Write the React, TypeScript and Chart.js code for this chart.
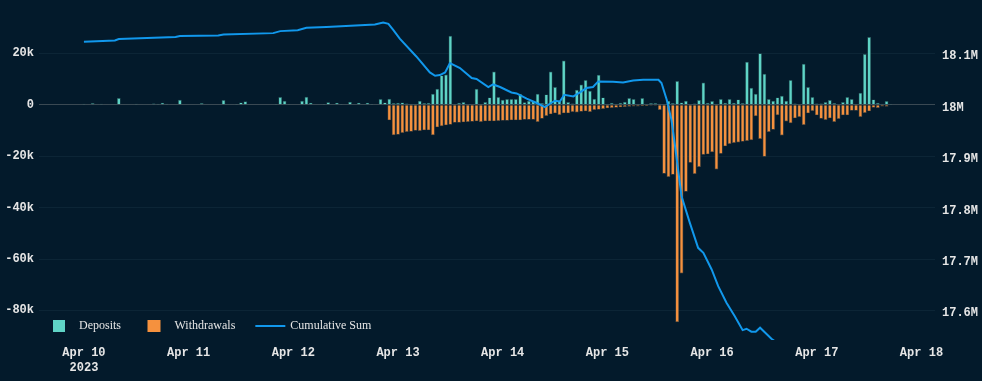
import React, { useEffect, useRef } from 'react';
import { Chart, registerables } from 'chart.js';

Chart.register(...registerables);

// ---- data (hourly, hour 0 = Apr 10 00:00) ----
const dayLabels = ['Apr 10', 'Apr 11', 'Apr 12', 'Apr 13', 'Apr 14', 'Apr 15', 'Apr 16', 'Apr 17', 'Apr 18'];
const yearLabel = '2023';
const seriesNames = ['Deposits', 'Withdrawals', 'Cumulative Sum'];

const deposits = [
  400, 150, 650, 150, 400, 150, 250, 250, 2600, 0,
  100, 0, 400, 0, 250, 0, 500, 400, 800, 400,
  150, 200, 1950, 0, 0, 0, 100, 650, 0, 0,
  150, 200, 1800, 100, 0, 300, 900, 1300, 0, 0,
  200, 200, 200, 200, 300, 3000, 1550, 300, 0, 150,
  1550, 3100, 800, 0, 0, 300, 1000, 200, 800, 300,
  200, 1150, 150, 800, 150, 800, 300, 200, 2200, 900,
  2300, 650, 780, 900, 520, 390, 390, 1550, 650, 780,
  4270, 6200, 11400, 11770, 26800, 390, 780, 1030, 200, 260,
  6200, 390, 1030, 2850, 12900, 2980, 1940, 2200, 2200, 2200,
  4270, 1000, 1550, 1300, 4270, 650, 4010, 12900, 6860, 1300,
  17200, 1030, 520, 5820, 7890, 9570, 5430, 2330, 11640, 2850,
  390, 780, 390, 780, 1160, 2590, 2200, 390, 2590, 390,
  650, 650, 390, 300, 1550, 650, 9180, 900, 1550, 260,
  520, 1810, 8660, 780, 1420, 390, 2200, 780, 2200, 780,
  2070, 650, 16700, 6600, 4270, 20000, 12000, 2200, 1550, 2850,
  3500, 1550, 9570, 520, 200, 15900, 6860, 2980, 520, 520,
  1030, 1810, 650, 260, 1030, 2980, 2200, 390, 4660, 19700,
  26300, 2070, 780, 390, 1420, 300,
];

const withdrawals = [
  0, 0, 0, 0, 0, 0, 0, 0, 0, 0,
  0, 0, 0, 0, 0, 0, 0, 0, 0, 0,
  0, 0, 0, 0, 0, 0, 0, 0, 0, 0,
  0, 0, 0, 0, 0, 0, 0, 0, 0, 0,
  0, 0, 0, 0, 0, 0, 0, 0, 0, 0,
  0, 0, 0, 0, 0, 0, 0, 0, 0, 0,
  0, 0, 0, 0, 0, 0, 0, 0, 0, 0,
  -6080, -11900, -11640, -11000, -10600, -10480, -10100, -10200, -9960, -9960,
  -11900, -8800, -8400, -8020, -7760, -6980, -6980, -6850, -6730, -6600,
  -6470, -6730, -6470, -6470, -6470, -6340, -6200, -6200, -6080, -6080,
  -6080, -5820, -5820, -5820, -6730, -5430, -4400, -3750, -3360, -4010,
  -3360, -3360, -2850, -2980, -2720, -2590, -2850, -2070, -1940, -1680,
  -1420, -1300, -1160, -1030, -900, -780, -650, -650, -520, -520,
  -390, -390, -2070, -26800, -28100, -27200, -84600, -65600, -33800, -22600,
  -26900, -24200, -19500, -19300, -18500, -25200, -19100, -16200, -15300, -14900,
  -14700, -14400, -14100, -13800, -4500, -13300, -20200, -10600, -9700, -4100,
  -12000, -6500, -7200, -5300, -4800, -7900, -3360, -2460, -4140, -5430,
  -5950, -5300, -6730, -5560, -4140, -4140, -2330, -2330, -4790, -3230,
  -2590, -1160, -1300, -650, -780, -200,
];

const cumHours = [
  0, 7.1, 8, 21, 22, 30.8, 32, 43.4, 45, 49, 51, 55.6, 66.7, 68.6, 69.8, 70.9, 72.4,
  76.2, 79.3, 80.5, 81.6, 82.8, 83.9, 86.2, 88.9, 90, 92.7, 93.8, 95.4, 98, 99.2,
  101.5, 103.8, 105.7, 106.8, 108, 109.1, 110.1, 112.2, 113.7, 115.2, 116.7, 117.9,
  121.3, 123.6, 125.9, 128.2, 131.7, 132.4, 133.6, 134.7, 135.5, 137, 138.9, 140.8,
  142, 143.9, 145.4, 147.3, 149.2, 151, 151.9, 153, 154, 155, 157.6,
  160, 165, 172, 178, 185,
];
const cumValues = [
  18122300, 18124900, 18127600, 18131500, 18133400, 18134600, 18136500, 18139200,
  18143100, 18145000, 18149500, 18150900, 18156000, 18159800, 18157300, 18145700,
  18128500, 18093800, 18062700, 18056300, 18057700, 18062700, 18081000, 18071300,
  18051900, 18050000, 18034400, 18039400, 18034400, 18023900, 18022000, 18011700,
  18003300, 17995500, 18001900, 18007800, 18006400, 18019400, 18016100, 18023900,
  18032400, 18034400, 18045300, 18044700, 18043300, 18047200, 18048600, 18048600,
  18042100, 18009700, 17970000, 17920000, 17822000, 17770300, 17721700, 17712000,
  17679600, 17647100, 17614900, 17588900, 17561700, 17564400, 17558600, 17558600,
  17566400, 17545000,
  17530000, 17515000, 17490000, 17480000, 17500000,
];

const leftTicks = [-80000, -60000, -40000, -20000, 0, 20000];
const rightTicks = [17600000, 17700000, 17800000, 17900000, 18000000, 18100000];

// ---- styles ----
const BG = '#031a2b';
const TEAL = '#5fd4c6';
const ORANGE = '#f5913e';
const LINE = '#1198ec';
const TICK = '#e6e6e6';
const MONO = '"Liberation Mono", "Courier New", monospace';
const SERIF = '"Liberation Serif", "Times New Roman", serif';

const bgPlugin = {
  id: 'bg',
  beforeDraw(chart: any) {
    const { ctx, width, height } = chart;
    ctx.save();
    ctx.fillStyle = BG;
    ctx.fillRect(0, 0, width, height);
    ctx.restore();
  },
};

const legendPlugin = {
  id: 'overlayLegend',
  afterDraw(chart: any) {
    const { ctx, chartArea } = chart;
    ctx.save();
    ctx.font = '12px ' + SERIF;
    ctx.textBaseline = 'middle';
    const cy = 326;
    let x = chartArea.left + 14;
    ctx.fillStyle = TEAL;
    ctx.fillRect(x, cy - 6, 12, 12);
    ctx.fillStyle = TICK;
    ctx.fillText(seriesNames[0], x + 26, cy);
    x = x + 26 + ctx.measureText(seriesNames[0]).width + 26.5;
    ctx.fillStyle = ORANGE;
    ctx.fillRect(x, cy - 6, 13, 12);
    ctx.fillStyle = TICK;
    ctx.fillText(seriesNames[1], x + 27, cy);
    x = x + 27 + ctx.measureText(seriesNames[1]).width + 20;
    ctx.strokeStyle = LINE;
    ctx.lineWidth = 2;
    ctx.beginPath();
    ctx.moveTo(x, cy);
    ctx.lineTo(x + 30, cy);
    ctx.stroke();
    ctx.fillStyle = TICK;
    ctx.fillText(seriesNames[2], x + 35, cy);
    ctx.restore();
  },
};

export default function App() {
  const ref = useRef<HTMLCanvasElement | null>(null);

  useEffect(() => {
    if (!ref.current) return;
    const chart = new Chart(ref.current, {
      type: 'bar',
      data: {
        datasets: [
          {
            type: 'line',
            label: seriesNames[2],
            data: cumHours.map((h, i) => ({ x: h, y: cumValues[i] })),
            borderColor: LINE,
            borderWidth: 2,
            pointRadius: 0,
            tension: 0,
            yAxisID: 'y1',
            order: 0,
          } as any,
          {
            type: 'bar',
            label: seriesNames[0],
            data: deposits.map((v, i) => ({ x: i, y: v })),
            backgroundColor: TEAL,
            borderColor: 'rgba(40,90,92,0.9)',
            borderWidth: 0.7,
            borderSkipped: 'start',
            barPercentage: 0.86,
            categoryPercentage: 1,
            grouped: false,
            yAxisID: 'y',
            order: 1,
          } as any,
          {
            type: 'bar',
            label: seriesNames[1],
            data: withdrawals.map((v, i) => ({ x: i, y: v })),
            backgroundColor: ORANGE,
            borderColor: 'rgba(95,80,65,0.9)',
            borderWidth: 0.7,
            borderSkipped: 'start',
            barPercentage: 0.86,
            categoryPercentage: 1,
            grouped: false,
            yAxisID: 'y',
            order: 2,
          } as any,
        ],
      },
      options: {
        animation: false,
        responsive: true,
        maintainAspectRatio: false,
        layout: { padding: { top: 7, left: 0, right: 0, bottom: 0 } },
        plugins: { legend: { display: false }, tooltip: { enabled: false } },
        scales: {
          x: {
            type: 'linear',
            offset: false,
            min: -10.3,
            max: 195.1,
            grid: { display: false, drawTicks: false },
            border: { display: false },
            afterBuildTicks: (s: any) => {
              s.ticks = dayLabels.map((_, i) => ({ value: i * 24 }));
            },
            afterFit: (s: any) => {
              s.height = 41;
              s.paddingLeft = 0;
              s.paddingRight = 0;
            },
            ticks: {
              autoSkip: false,
              maxRotation: 0,
              padding: 6,
              color: TICK,
              font: { family: MONO, size: 12, weight: 'bold' },
              callback: (v: any) => {
                const i = Math.round(Number(v) / 24);
                return i === 0 ? [dayLabels[0], yearLabel] : dayLabels[i];
              },
            },
          },
          y: {
            type: 'linear',
            position: 'left',
            min: -91500,
            max: 38000,
            afterBuildTicks: (s: any) => {
              s.ticks = leftTicks.map((v) => ({ value: v }));
            },
            afterFit: (s: any) => {
              s.width = 39;
              s.paddingTop = 0;
              s.paddingBottom = 0;
            },
            grid: {
              drawTicks: false,
              lineWidth: 1,
              color: (c: any) => (c.tick && c.tick.value === 0 ? '#3a4953' : '#0c2536'),
            },
            border: { display: false },
            ticks: {
              padding: 5,
              color: TICK,
              font: { family: MONO, size: 12, weight: 'bold' },
              callback: (v: any) => (Number(v) === 0 ? '0' : Number(v) / 1000 + 'k'),
            },
          },
          y1: {
            type: 'linear',
            position: 'right',
            min: 17542500,
            max: 18190000,
            afterBuildTicks: (s: any) => {
              s.ticks = rightTicks.map((v) => ({ value: v }));
            },
            afterFit: (s: any) => {
              s.width = 47;
              s.paddingTop = 0;
              s.paddingBottom = 0;
            },
            grid: { display: false, drawTicks: false },
            border: { display: false },
            ticks: {
              padding: 7,
              labelOffset: 3,
              color: TICK,
              font: { family: MONO, size: 12, weight: 'bold' },
              callback: (v: any) => {
                const n = Number(v);
                return n === 18000000 ? '18M' : (n / 1e6).toFixed(1) + 'M';
              },
            },
          },
        },
      },
      plugins: [bgPlugin, legendPlugin],
    } as any);
    return () => chart.destroy();
  }, []);

  return (
    <div style={{ position: 'fixed', left: 0, top: 0, width: 982, height: 381, background: BG }}>
      <canvas ref={ref} />
    </div>
  );
}
